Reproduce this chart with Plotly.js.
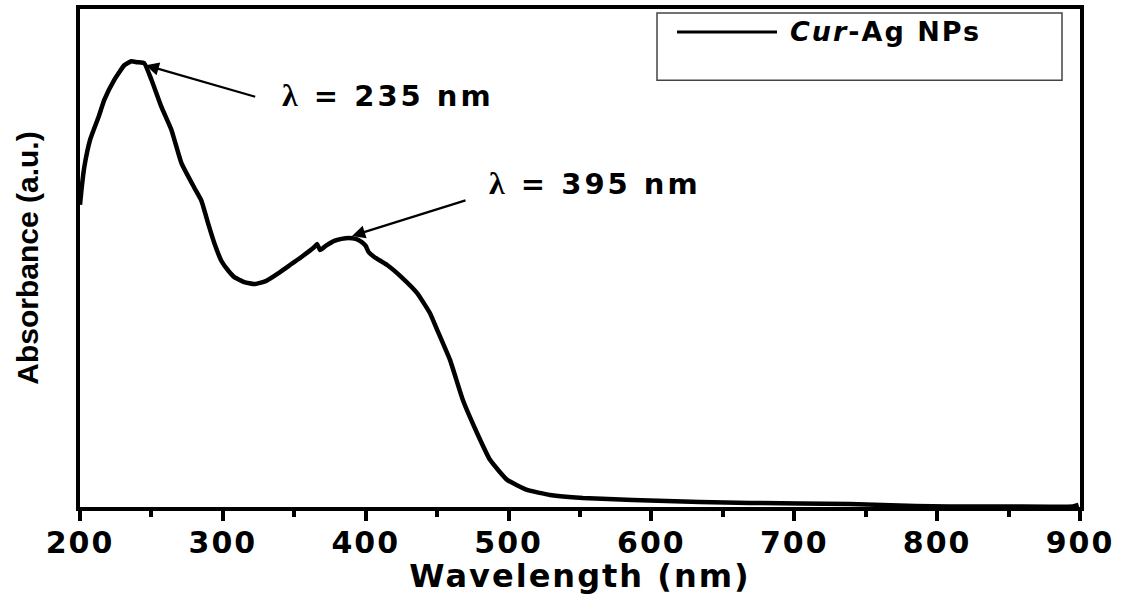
<!DOCTYPE html>
<html><head><meta charset="utf-8">
<script src="https://cdn.plot.ly/plotly-3.0.1.min.js"></script>
<style>
html,body{margin:0;padding:0;background:#fff;}
#chart{width:1126px;height:595px;}
.xtick text{letter-spacing:2px;}
.g-xtitle text{letter-spacing:2px;}
</style></head><body><div id="chart"></div>
<script>
const wavelength = [200,201,203,207,213,217,224,231,236,240,245,250,257,264,271,280,285,290,294,299,304,308,315,322,330,339,348,355,364,366,368,372,378,383,388,393,397,400,402,406,415,425,436,445,450,459,468,478,487,499,513,529,552,587,634,669,739,785,808,850,895,899];
const absorbance = [0.606,0.635,0.681,0.735,0.781,0.815,0.855,0.884,0.892,0.890,0.888,0.855,0.801,0.755,0.689,0.640,0.614,0.566,0.530,0.494,0.474,0.462,0.452,0.448,0.454,0.470,0.488,0.502,0.522,0.528,0.516,0.524,0.534,0.538,0.540,0.538,0.532,0.524,0.512,0.502,0.486,0.462,0.430,0.390,0.357,0.297,0.217,0.151,0.098,0.058,0.038,0.028,0.022,0.018,0.014,0.012,0.010,0.006,0.005,0.005,0.005,0.008];
const xTickValues = [200,300,400,500,600,700,800,900];
const xTickLabels = ['200','300','400','500','600','700','800','900'];
const seriesName = '<i>Cur</i>-Ag NPs';
const peakLabels = ['235 nm','395 nm'];

const lam = '<span style="font-family:\'Liberation Serif\',serif;font-size:32px">λ</span>';
const annFont = {family:'DejaVu Sans', size:29, color:'#000', weight:'bold'};
function peakText(t){ return '<span style="letter-spacing:3px">'+lam+' = '+t+'</span>'; }

const trace = {
  x: wavelength, y: absorbance, type:'scatter', mode:'lines',
  name: seriesName, showlegend:false,
  line:{color:'#000', width:4.5, shape:'spline', smoothing:0.4}
};

const layout = {
  width:1126, height:595,
  margin:{l:80, r:46, t:9, b:88},
  paper_bgcolor:'#fff', plot_bgcolor:'#fff',
  showlegend:false,
  xaxis:{
    range:[200,900], tickmode:'array', tickvals:xTickValues, ticktext:xTickLabels,
    showgrid:false, zeroline:false, showline:true, linecolor:'#000', linewidth:4, mirror:true,
    ticks:'outside', ticklen:10, tickwidth:4, tickcolor:'#000', ticklabelstandoff:-4,
    minor:{dtick:50, tick0:200, ticks:'outside', ticklen:6, tickwidth:4, tickcolor:'#000', showgrid:false},
    tickfont:{family:'DejaVu Sans', size:30, color:'#000', weight:'bold'},
    title:{text:'Wavelength (nm)', standoff:2, font:{family:'DejaVu Sans', size:32, color:'#000', weight:'bold'}}
  },
  yaxis:{
    range:[0.004,0.996], showticklabels:false, ticks:'', showgrid:false, zeroline:false,
    showline:true, linecolor:'#000', linewidth:4, mirror:true,
    title:{text:'Absorbance (a.u.)', standoff:30, font:{family:'Liberation Sans', size:30, color:'#000', weight:'bold'}}
  },
  shapes:[
    {type:'rect', xref:'paper', yref:'paper', x0:0.577, x1:0.982, y0:0.857, y1:0.992, line:{color:'#444', width:1.5}, fillcolor:'rgba(0,0,0,0)'},
    {type:'line', xref:'paper', yref:'paper', x0:0.597, x1:0.697, y0:0.954, y1:0.954, line:{color:'#000', width:3}}
  ],
  annotations:[
    {xref:'paper', yref:'paper', x:0.708, y:0.954, xanchor:'left', yanchor:'middle', showarrow:false,
     text:'<span style="letter-spacing:2px">'+seriesName+'</span>', font:{family:'DejaVu Sans', size:27, color:'#000', weight:'bold'}},
    {x:415.6, y:0.825, xref:'x', yref:'y', showarrow:false, text:peakText(peakLabels[0]), font:annFont, xanchor:'center', yanchor:'middle'},
    {x:560.5, y:0.649, xref:'x', yref:'y', showarrow:false, text:peakText(peakLabels[1]), font:annFont, xanchor:'center', yanchor:'middle'},
    {x:246, y:0.884, xref:'x', yref:'y', text:'', showarrow:true, ax:111, ay:32, arrowhead:2, arrowsize:1.2, arrowwidth:2.2, arrowcolor:'#000', standoff:0},
    {x:390.4, y:0.544, xref:'x', yref:'y', text:'', showarrow:true, ax:115, ay:-36, arrowhead:2, arrowsize:1.2, arrowwidth:2.2, arrowcolor:'#000', standoff:0}
  ]
};

Plotly.newPlot('chart', [trace], layout, {displayModeBar:false, staticPlot:true});
</script></body></html>
